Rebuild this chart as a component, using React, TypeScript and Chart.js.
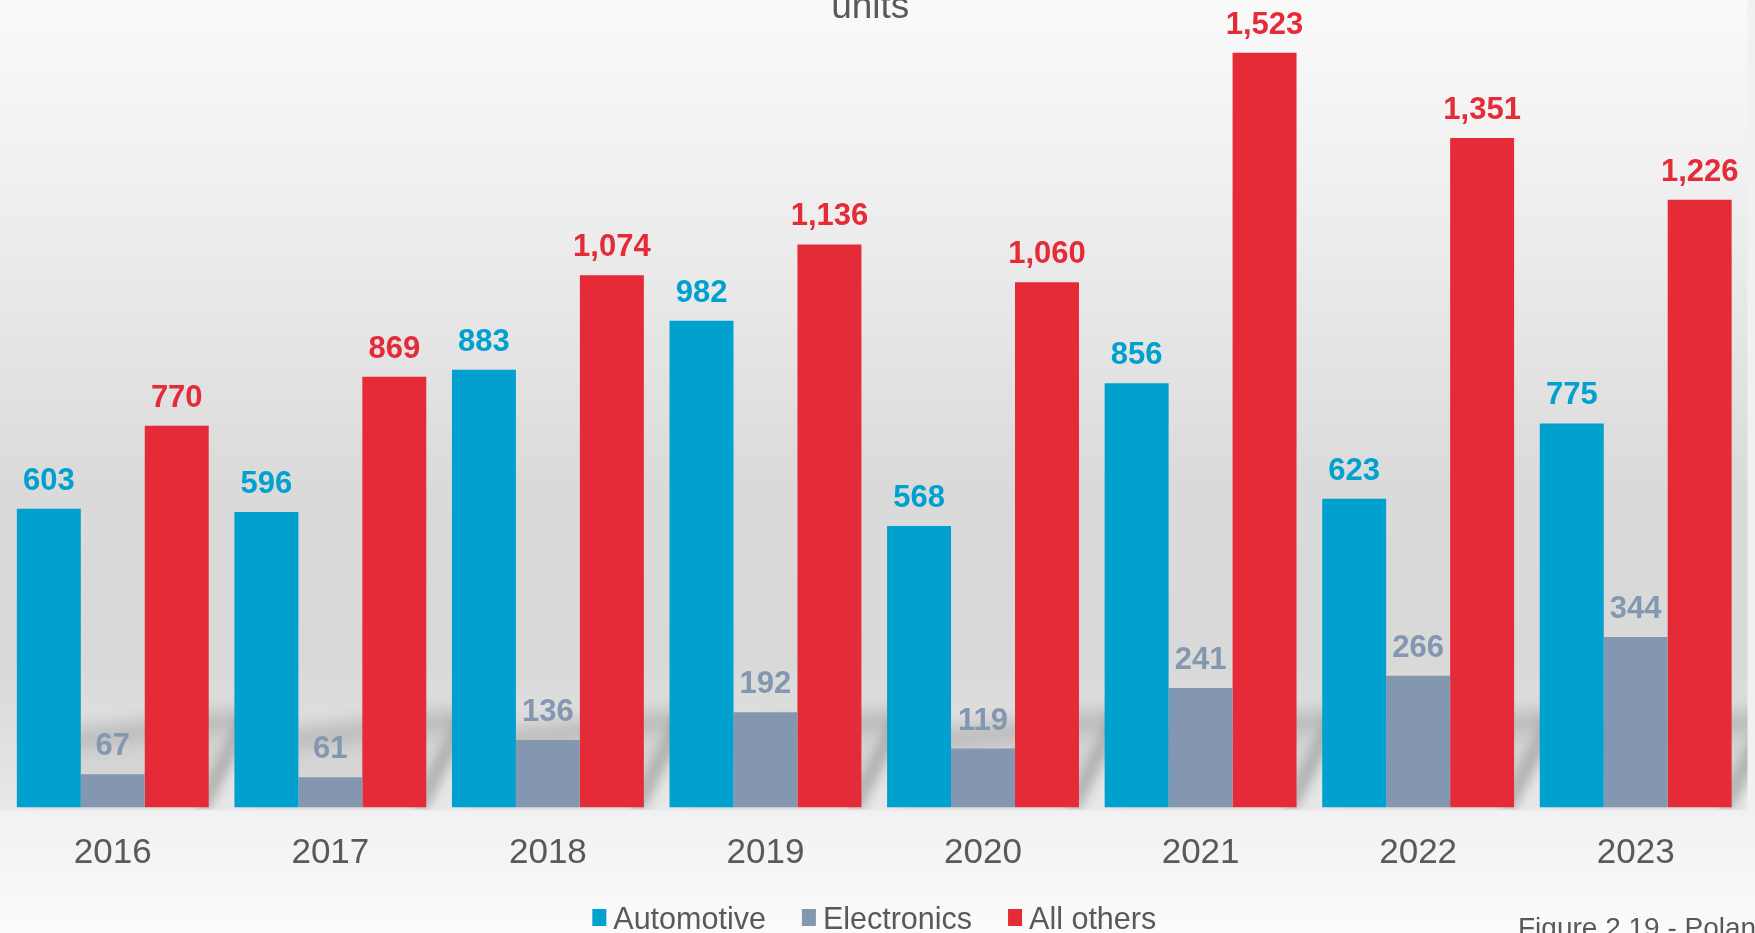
import React, { useEffect, useRef } from "react";
import { Chart, registerables } from "chart.js";

Chart.register(...registerables);

const years = ["2016", "2017", "2018", "2019", "2020", "2021", "2022", "2023"];
const automotive = [603, 596, 883, 982, 568, 856, 623, 775];
const electronics = [67, 61, 136, 192, 119, 241, 266, 344];
const allOthers = [770, 869, 1074, 1136, 1060, 1523, 1351, 1226];
const seriesNames = ["Automotive", "Electronics", "All others"];
const seriesColors = ["#00A0CF", "#8497B0", "#E52B38"];
const titleText = "units";
const captionText = "Figure 2.19 - Poland";

const FONT = "'Liberation Sans', Arial, sans-serif";
const TEXT_GRAY = "#595959";

const backgroundPlugin = {
  id: "bgPlugin",
  beforeDraw(chart: any) {
    const { ctx, width, height } = chart;
    const base = chart.chartArea.bottom + 3;
    ctx.save();
    const g2 = ctx.createLinearGradient(0, base, 0, height);
    g2.addColorStop(0, "#f1f1f1");
    g2.addColorStop(1, "#fbfbfb");
    ctx.fillStyle = g2;
    ctx.fillRect(0, 0, width, height);
    const g = ctx.createLinearGradient(0, 0, 0, base);
    g.addColorStop(0, "#fafafa");
    g.addColorStop(0.3, "#ececec");
    g.addColorStop(0.6, "#dadada");
    g.addColorStop(0.82, "#d9d9d9");
    g.addColorStop(0.94, "#e2e2e2");
    g.addColorStop(1, "#e8e8e8");
    ctx.fillStyle = g;
    ctx.fillRect(0, 0, chart.chartArea.right + 3, base);
    ctx.restore();
  },
};

const shadowPlugin = {
  id: "shadowPlugin",
  beforeDatasetsDraw(chart: any) {
    const { ctx } = chart;
    const m0 = chart.getDatasetMeta(0);
    const m2 = chart.getDatasetMeta(chart.data.datasets.length - 1);
    ctx.save();
    ctx.beginPath();
    ctx.rect(chart.chartArea.left - 4, 0, chart.chartArea.right - chart.chartArea.left + 7, chart.chartArea.bottom + 2);
    ctx.clip();
    m0.data.forEach((b0: any, i: number) => {
      const b2 = m2.data[i];
      const gL = b0.x - b0.width / 2;
      const gR = b2.x + b2.width / 2;
      const base = b0.base;
      const dx = 42;
      const p1 = [gL + 10, base];
      const p2 = [gR, base];
      const p3 = [gR + dx, base - 100];
      const p4 = [gL + 10 + dx, base - 78];
      // soft body
      ctx.filter = "blur(9px)";
      ctx.fillStyle = "rgba(0,0,0,0.06)";
      ctx.beginPath();
      ctx.moveTo(p1[0], p1[1]);
      ctx.lineTo(p2[0], p2[1]);
      ctx.lineTo(p3[0], p3[1]);
      ctx.lineTo(p4[0], p4[1]);
      ctx.closePath();
      ctx.fill();
      // diagonal edge
      ctx.filter = "blur(5px)";
      ctx.strokeStyle = "rgba(0,0,0,0.17)";
      ctx.lineWidth = 16;
      ctx.lineCap = "round";
      ctx.beginPath();
      ctx.moveTo(p2[0] - 5, p2[1] - 4);
      ctx.lineTo(p3[0] - 6, p3[1] + 14);
      ctx.stroke();
      // top edge (softer)
      ctx.filter = "blur(8px)";
      ctx.strokeStyle = "rgba(0,0,0,0.11)";
      ctx.lineWidth = 18;
      ctx.beginPath();
      ctx.moveTo(p3[0] - 8, p3[1] + 12);
      ctx.lineTo(p4[0], p4[1] + 10);
      ctx.stroke();
    });
    ctx.restore();
  },
};

const valueLabelPlugin = {
  id: "valueLabels",
  afterDatasetsDraw(chart: any) {
    const { ctx } = chart;
    ctx.save();
    ctx.font = `bold 31px ${FONT}`;
    ctx.textAlign = "center";
    ctx.textBaseline = "alphabetic";
    chart.data.datasets.forEach((ds: any, di: number) => {
      const meta = chart.getDatasetMeta(di);
      ctx.fillStyle = ds.backgroundColor;
      meta.data.forEach((bar: any, i: number) => {
        const v = ds.data[i] as number;
        ctx.fillText(v.toLocaleString("en-US"), bar.x, bar.y - 19);
      });
    });
    ctx.restore();
  },
};

const textPlugin = {
  id: "textPlugin",
  afterDraw(chart: any) {
    const { ctx, chartArea } = chart;
    const cx = (chartArea.left + chartArea.right) / 2;
    ctx.save();
    ctx.fillStyle = TEXT_GRAY;
    ctx.textBaseline = "alphabetic";
    // title (cut at top)
    ctx.font = `37px ${FONT}`;
    ctx.textAlign = "center";
    ctx.fillText(titleText, cx - 4, 18);
    // caption (cut at bottom right)
    ctx.font = `28px ${FONT}`;
    ctx.textAlign = "left";
    ctx.fillText(captionText, 1518, 937);
    // legend
    ctx.font = `30.5px ${FONT}`;
    const boxW = 14;
    const boxH = 17;
    const gapBox = 7;
    const gapItem = 36;
    const widths = chart.data.datasets.map((ds: any) => boxW + gapBox + ctx.measureText(ds.label).width);
    const total = widths.reduce((a: number, b: number) => a + b, 0) + gapItem * (widths.length - 1);
    let x = cx - total / 2;
    const baseline = 929;
    chart.data.datasets.forEach((ds: any, i: number) => {
      ctx.fillStyle = ds.backgroundColor;
      ctx.fillRect(x, baseline - 20, boxW, boxH);
      ctx.fillStyle = TEXT_GRAY;
      ctx.fillText(ds.label, x + boxW + gapBox, baseline);
      x += widths[i] + gapItem;
    });
    ctx.restore();
  },
};

export default function App() {
  const canvasRef = useRef<HTMLCanvasElement | null>(null);

  useEffect(() => {
    document.body.style.margin = "0";
    const canvas = canvasRef.current;
    if (!canvas) return;
    const chart = new Chart(canvas, {
      type: "bar",
      data: {
        labels: years,
        datasets: [
          { label: seriesNames[0], data: automotive, backgroundColor: seriesColors[0] },
          { label: seriesNames[1], data: electronics, backgroundColor: seriesColors[1] },
          { label: seriesNames[2], data: allOthers, backgroundColor: seriesColors[2] },
        ],
      },
      options: {
        responsive: false,
        animation: false,
        devicePixelRatio: 1,
        layout: { padding: { left: 4, right: 10.5, top: 14.5, bottom: 33.5 } },
        datasets: {
          bar: { categoryPercentage: 0.882, barPercentage: 1.0, borderWidth: 0 },
        },
        scales: {
          x: {
            grid: { display: false, drawTicks: false },
            border: { display: false },
            ticks: {
              color: TEXT_GRAY,
              font: { family: FONT, size: 35 },
              padding: 25,
            },
          },
          y: { display: false, min: 0, max: 1600 },
        },
        plugins: {
          legend: { display: false },
          tooltip: { enabled: false },
          title: { display: false },
        },
      },
      plugins: [backgroundPlugin, shadowPlugin, valueLabelPlugin, textPlugin],
    });
    return () => chart.destroy();
  }, []);

  return (
    <div style={{ position: "absolute", left: 0, top: 0, width: 1755, height: 933 }}>
      <canvas ref={canvasRef} width={1755} height={933} />
    </div>
  );
}
